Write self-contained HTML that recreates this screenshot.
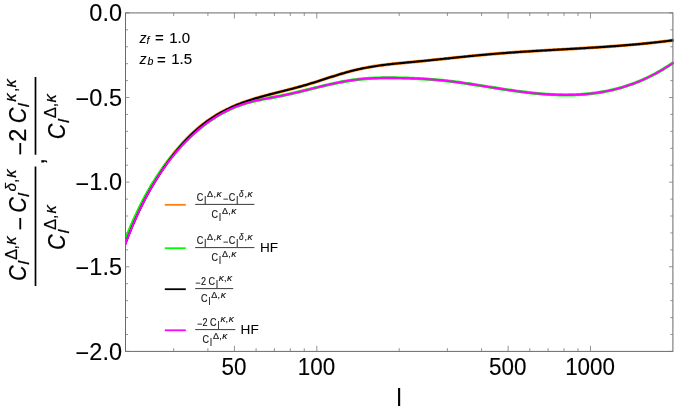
<!DOCTYPE html>
<html><head><meta charset="utf-8"><title>plot</title>
<style>
html,body{margin:0;padding:0;background:#fff;}
body{width:674px;height:413px;overflow:hidden;position:relative;font-family:"Liberation Sans",sans-serif;}
</style></head><body>
<svg width="674" height="413" viewBox="0 0 674 413" style="position:absolute;left:0;top:0;will-change:transform;opacity:0.999">
<rect x="0" y="0" width="674" height="413" fill="#fff"/>
<defs><clipPath id="c"><rect x="125.50" y="12.90" width="549.40" height="338.50"/></clipPath></defs>
<g clip-path="url(#c)" fill="none" stroke-width="2.10" stroke-linejoin="round">
<path d="M121.93 250.46 L123.45 246.34 L124.96 242.32 L126.47 238.40 L127.99 234.58 L129.50 230.85 L131.02 227.22 L132.53 223.67 L134.05 220.22 L135.56 216.85 L137.07 213.57 L138.59 210.37 L140.10 207.25 L141.62 204.21 L143.13 201.24 L144.65 198.35 L146.16 195.53 L147.67 192.78 L149.19 190.10 L150.70 187.49 L152.22 184.94 L153.73 182.46 L155.25 180.03 L156.76 177.63 L158.27 175.28 L159.79 172.96 L161.30 170.68 L162.82 168.42 L164.33 166.21 L165.85 164.03 L167.36 161.91 L168.87 159.84 L170.39 157.83 L171.90 155.86 L173.42 153.94 L174.93 152.06 L176.45 150.22 L177.96 148.43 L179.47 146.67 L180.99 144.95 L182.50 143.27 L184.02 141.63 L185.53 140.03 L187.05 138.47 L188.56 136.95 L190.08 135.46 L191.59 134.01 L193.10 132.59 L194.62 131.21 L196.13 129.87 L197.65 128.56 L199.16 127.28 L200.68 126.04 L202.19 124.83 L203.70 123.66 L205.22 122.52 L206.73 121.40 L208.25 120.32 L209.76 119.28 L211.28 118.26 L212.79 117.27 L214.30 116.31 L215.82 115.37 L217.33 114.47 L218.85 113.59 L220.36 112.73 L221.88 111.90 L223.39 111.10 L224.90 110.32 L226.42 109.56 L227.93 108.83 L229.45 108.11 L230.96 107.42 L232.48 106.74 L233.99 106.09 L235.50 105.46 L237.00 104.84 L238.50 104.24 L240.00 103.65 L241.50 103.09 L243.00 102.53 L244.50 102.00 L246.00 101.47 L247.50 100.96 L249.00 100.46 L250.50 99.97 L252.00 99.50 L253.50 99.03 L255.00 98.57 L256.50 98.12 L258.00 97.68 L259.50 97.25 L261.00 96.82 L262.50 96.41 L264.00 95.99 L265.50 95.58 L267.00 95.18 L268.50 94.78 L270.00 94.39 L271.50 94.00 L273.00 93.61 L274.50 93.23 L276.00 92.84 L277.50 92.46 L279.00 92.08 L280.50 91.70 L282.00 91.33 L283.50 90.95 L285.00 90.57 L286.50 90.19 L288.00 89.81 L289.50 89.42 L291.00 89.04 L292.50 88.65 L294.00 88.25 L295.50 87.85 L297.00 87.45 L298.50 87.05 L300.00 86.63 L301.50 86.22 L303.00 85.79 L304.50 85.36 L306.00 84.92 L307.50 84.48 L309.00 84.02 L310.50 83.57 L312.00 83.10 L313.50 82.63 L315.00 82.16 L316.50 81.69 L318.00 81.21 L319.50 80.73 L321.00 80.24 L322.50 79.76 L324.00 79.27 L325.50 78.79 L327.00 78.30 L328.50 77.82 L330.00 77.34 L331.50 76.86 L333.00 76.38 L334.50 75.91 L336.00 75.44 L337.50 74.98 L339.00 74.52 L340.50 74.06 L342.00 73.62 L343.50 73.18 L345.00 72.74 L346.50 72.32 L348.00 71.90 L349.50 71.50 L351.00 71.10 L352.50 70.71 L354.00 70.34 L355.50 69.97 L357.00 69.62 L358.50 69.28 L360.00 68.95 L361.50 68.63 L363.00 68.33 L364.50 68.03 L366.00 67.74 L367.50 67.46 L369.00 67.19 L370.50 66.93 L372.00 66.68 L373.50 66.44 L375.00 66.20 L376.50 65.97 L378.00 65.75 L379.50 65.54 L381.00 65.33 L382.50 65.13 L384.00 64.94 L385.50 64.75 L387.00 64.57 L388.50 64.39 L390.00 64.22 L391.50 64.05 L393.00 63.89 L394.50 63.73 L396.00 63.57 L397.50 63.42 L399.00 63.27 L400.50 63.12 L402.00 62.97 L403.50 62.83 L405.00 62.69 L406.50 62.55 L408.00 62.40 L409.50 62.26 L411.00 62.13 L412.50 61.99 L414.00 61.84 L415.50 61.70 L417.00 61.56 L418.50 61.42 L420.00 61.27 L421.50 61.12 L423.00 60.98 L424.50 60.83 L426.00 60.68 L427.50 60.53 L429.00 60.37 L430.50 60.22 L432.00 60.07 L433.50 59.91 L435.00 59.75 L436.50 59.60 L438.00 59.44 L439.50 59.28 L441.00 59.13 L442.50 58.97 L444.00 58.81 L445.50 58.65 L447.00 58.50 L448.50 58.34 L450.00 58.18 L451.50 58.02 L453.00 57.86 L454.50 57.71 L456.00 57.55 L457.50 57.39 L459.00 57.24 L460.50 57.08 L462.00 56.93 L463.50 56.77 L465.00 56.62 L466.50 56.47 L468.00 56.31 L469.50 56.16 L471.00 56.01 L472.50 55.86 L474.00 55.72 L475.50 55.57 L477.00 55.42 L478.50 55.28 L480.00 55.14 L481.50 55.00 L483.00 54.86 L484.50 54.72 L486.00 54.58 L487.50 54.45 L489.00 54.32 L490.50 54.19 L492.00 54.06 L493.50 53.93 L495.00 53.81 L496.50 53.68 L498.00 53.56 L499.50 53.44 L501.00 53.32 L502.50 53.21 L504.00 53.09 L505.50 52.98 L507.00 52.86 L508.50 52.75 L510.00 52.64 L511.50 52.54 L513.00 52.43 L514.50 52.33 L516.00 52.22 L517.50 52.12 L519.00 52.02 L520.50 51.92 L522.00 51.82 L523.50 51.72 L525.00 51.62 L526.50 51.53 L528.00 51.43 L529.50 51.34 L531.00 51.24 L532.50 51.15 L534.00 51.06 L535.50 50.97 L537.00 50.87 L538.50 50.78 L540.00 50.70 L541.50 50.61 L543.00 50.52 L544.50 50.43 L546.00 50.34 L547.50 50.26 L549.00 50.17 L550.50 50.08 L552.00 50.00 L553.50 49.91 L555.00 49.82 L556.50 49.74 L558.00 49.65 L559.50 49.57 L561.00 49.48 L562.50 49.40 L564.00 49.31 L565.50 49.23 L567.00 49.14 L568.50 49.06 L570.00 48.97 L571.50 48.88 L573.00 48.80 L574.50 48.71 L576.00 48.62 L577.50 48.54 L579.00 48.45 L580.50 48.36 L582.00 48.27 L583.50 48.18 L585.00 48.09 L586.50 48.00 L588.00 47.91 L589.50 47.81 L591.00 47.72 L592.50 47.63 L594.00 47.53 L595.50 47.44 L597.00 47.34 L598.50 47.24 L600.00 47.14 L601.50 47.04 L603.00 46.94 L604.50 46.84 L606.00 46.74 L607.50 46.63 L609.00 46.53 L610.50 46.42 L612.00 46.31 L613.50 46.20 L615.00 46.09 L616.50 45.98 L618.00 45.86 L619.50 45.75 L621.00 45.63 L622.50 45.51 L624.00 45.39 L625.50 45.27 L627.00 45.15 L628.50 45.02 L630.00 44.89 L631.50 44.76 L633.00 44.63 L634.50 44.50 L636.00 44.36 L637.50 44.23 L639.00 44.09 L640.50 43.94 L642.00 43.80 L643.50 43.65 L645.00 43.51 L646.50 43.36 L648.00 43.20 L649.50 43.05 L651.00 42.89 L652.50 42.73 L654.00 42.57 L655.50 42.40 L657.00 42.23 L658.50 42.06 L660.00 41.89 L661.50 41.72 L663.00 41.54 L664.50 41.36 L666.00 41.17 L667.50 40.99 L669.00 40.80 L670.50 40.60 L672.00 40.41 L673.50 40.21" stroke="#ff7f0e" stroke-width="3.20"/>
<path d="M121.47 250.46 L122.99 246.34 L124.51 242.32 L126.03 238.40 L127.55 234.58 L129.07 230.85 L130.60 227.22 L132.12 223.67 L133.64 220.22 L135.16 216.85 L136.68 213.57 L138.20 210.37 L139.72 207.25 L141.24 204.21 L142.76 201.24 L144.28 198.35 L145.80 195.53 L147.32 192.78 L148.84 190.10 L150.36 187.48 L151.88 184.93 L153.40 182.43 L154.92 180.00 L156.44 177.62 L157.96 175.30 L159.48 173.04 L161.00 170.82 L162.53 168.66 L164.05 166.55 L165.57 164.48 L167.09 162.47 L168.61 160.49 L170.13 158.56 L171.65 156.67 L173.17 154.82 L174.69 153.02 L176.21 151.25 L177.73 149.52 L179.25 147.83 L180.77 146.17 L182.29 144.55 L183.81 142.97 L185.33 141.42 L186.85 139.90 L188.37 138.42 L189.89 136.97 L191.41 135.55 L192.93 134.16 L194.45 132.80 L195.97 131.48 L197.50 130.18 L199.02 128.91 L200.54 127.67 L202.06 126.47 L203.58 125.29 L205.10 124.14 L206.62 123.02 L208.14 121.93 L209.66 120.86 L211.18 119.83 L212.70 118.82 L214.22 117.84 L215.74 116.88 L217.26 115.96 L218.78 115.06 L220.30 114.18 L221.82 113.34 L223.34 112.52 L224.86 111.72 L226.38 110.96 L227.90 110.21 L229.43 109.49 L230.95 108.80 L232.47 108.13 L233.99 107.49 L235.50 106.87 L237.00 106.27 L238.50 105.70 L240.00 105.15 L241.50 104.63 L243.00 104.12 L244.50 103.64 L246.00 103.19 L247.50 102.75 L249.00 102.34 L250.50 101.94 L252.00 101.56 L253.50 101.20 L255.00 100.85 L256.50 100.51 L258.00 100.19 L259.50 99.88 L261.00 99.58 L262.50 99.28 L264.00 99.00 L265.50 98.72 L267.00 98.44 L268.50 98.17 L270.00 97.90 L271.50 97.63 L273.00 97.36 L274.50 97.09 L276.00 96.81 L277.50 96.53 L279.00 96.25 L280.50 95.96 L282.00 95.66 L283.50 95.35 L285.00 95.04 L286.50 94.72 L288.00 94.39 L289.50 94.06 L291.00 93.72 L292.50 93.38 L294.00 93.03 L295.50 92.68 L297.00 92.33 L298.50 91.97 L300.00 91.61 L301.50 91.24 L303.00 90.88 L304.50 90.51 L306.00 90.14 L307.50 89.77 L309.00 89.40 L310.50 89.03 L312.00 88.66 L313.50 88.29 L315.00 87.92 L316.50 87.55 L318.00 87.19 L319.50 86.82 L321.00 86.46 L322.50 86.10 L324.00 85.75 L325.50 85.39 L327.00 85.05 L328.50 84.70 L330.00 84.36 L331.50 84.03 L333.00 83.70 L334.50 83.38 L336.00 83.07 L337.50 82.76 L339.00 82.46 L340.50 82.16 L342.00 81.88 L343.50 81.60 L345.00 81.33 L346.50 81.07 L348.00 80.82 L349.50 80.59 L351.00 80.36 L352.50 80.14 L354.00 79.93 L355.50 79.73 L357.00 79.55 L358.50 79.38 L360.00 79.21 L361.50 79.06 L363.00 78.92 L364.50 78.79 L366.00 78.67 L367.50 78.56 L369.00 78.46 L370.50 78.37 L372.00 78.28 L373.50 78.21 L375.00 78.14 L376.50 78.08 L378.00 78.03 L379.50 77.99 L381.00 77.95 L382.50 77.92 L384.00 77.90 L385.50 77.89 L387.00 77.88 L388.50 77.87 L390.00 77.87 L391.50 77.88 L393.00 77.89 L394.50 77.91 L396.00 77.93 L397.50 77.95 L399.00 77.98 L400.50 78.01 L402.00 78.05 L403.50 78.09 L405.00 78.13 L406.50 78.18 L408.00 78.22 L409.50 78.27 L411.00 78.33 L412.50 78.38 L414.00 78.44 L415.50 78.51 L417.00 78.57 L418.50 78.65 L420.00 78.72 L421.50 78.80 L423.00 78.88 L424.50 78.97 L426.00 79.06 L427.50 79.16 L429.00 79.26 L430.50 79.37 L432.00 79.48 L433.50 79.59 L435.00 79.72 L436.50 79.84 L438.00 79.98 L439.50 80.12 L441.00 80.26 L442.50 80.41 L444.00 80.57 L445.50 80.73 L447.00 80.90 L448.50 81.07 L450.00 81.25 L451.50 81.43 L453.00 81.61 L454.50 81.81 L456.00 82.00 L457.50 82.20 L459.00 82.40 L460.50 82.61 L462.00 82.82 L463.50 83.03 L465.00 83.25 L466.50 83.46 L468.00 83.69 L469.50 83.91 L471.00 84.14 L472.50 84.36 L474.00 84.59 L475.50 84.83 L477.00 85.06 L478.50 85.29 L480.00 85.53 L481.50 85.77 L483.00 86.00 L484.50 86.24 L486.00 86.48 L487.50 86.72 L489.00 86.96 L490.50 87.20 L492.00 87.43 L493.50 87.67 L495.00 87.91 L496.50 88.14 L498.00 88.38 L499.50 88.61 L501.00 88.84 L502.50 89.07 L504.00 89.30 L505.50 89.53 L507.00 89.75 L508.50 89.98 L510.00 90.19 L511.50 90.41 L513.00 90.62 L514.50 90.83 L516.00 91.04 L517.50 91.24 L519.00 91.44 L520.50 91.64 L522.00 91.83 L523.50 92.02 L525.00 92.20 L526.50 92.38 L528.00 92.56 L529.50 92.73 L531.00 92.89 L532.50 93.05 L534.00 93.20 L535.50 93.35 L537.00 93.49 L538.50 93.63 L540.00 93.76 L541.50 93.89 L543.00 94.01 L544.50 94.12 L546.00 94.23 L547.50 94.32 L549.00 94.42 L550.50 94.50 L552.00 94.58 L553.50 94.65 L555.00 94.72 L556.50 94.77 L558.00 94.82 L559.50 94.86 L561.00 94.89 L562.50 94.91 L564.00 94.93 L565.50 94.94 L567.00 94.93 L568.50 94.92 L570.00 94.90 L571.50 94.87 L573.00 94.83 L574.50 94.79 L576.00 94.73 L577.50 94.66 L579.00 94.58 L580.50 94.49 L582.00 94.39 L583.50 94.29 L585.00 94.17 L586.50 94.04 L588.00 93.89 L589.50 93.74 L591.00 93.58 L592.50 93.40 L594.00 93.21 L595.50 93.02 L597.00 92.80 L598.50 92.58 L600.00 92.35 L601.50 92.10 L603.00 91.84 L604.50 91.57 L606.00 91.28 L607.50 90.98 L609.00 90.67 L610.50 90.34 L612.00 90.00 L613.50 89.65 L615.00 89.28 L616.50 88.90 L618.00 88.51 L619.50 88.10 L621.00 87.68 L622.50 87.24 L624.00 86.79 L625.50 86.32 L627.00 85.84 L628.50 85.34 L630.00 84.82 L631.50 84.29 L633.00 83.75 L634.50 83.19 L636.00 82.61 L637.50 82.02 L639.00 81.41 L640.50 80.78 L642.00 80.14 L643.50 79.48 L645.00 78.80 L646.50 78.11 L648.00 77.40 L649.50 76.67 L651.00 75.92 L652.50 75.16 L654.00 74.38 L655.50 73.58 L657.00 72.76 L658.50 71.92 L660.00 71.07 L661.50 70.19 L663.00 69.30 L664.50 68.39 L666.00 67.46 L667.50 66.50 L669.00 65.53 L670.50 64.54 L672.00 63.53 L673.50 62.50" stroke="#00ff00" stroke-width="3.20"/>
<path d="M123.00 250.46 L124.50 246.34 L126.00 242.32 L127.50 238.40 L129.00 234.58 L130.50 230.85 L132.00 227.22 L133.50 223.67 L135.00 220.22 L136.50 216.85 L138.00 213.57 L139.50 210.37 L141.00 207.25 L142.50 204.21 L144.00 201.24 L145.50 198.35 L147.00 195.53 L148.50 192.78 L150.00 190.10 L151.50 187.49 L153.00 184.94 L154.50 182.46 L156.00 180.03 L157.50 177.63 L159.00 175.28 L160.50 172.96 L162.00 170.68 L163.50 168.42 L165.00 166.21 L166.50 164.03 L168.00 161.91 L169.50 159.84 L171.00 157.83 L172.50 155.86 L174.00 153.94 L175.50 152.06 L177.00 150.22 L178.50 148.43 L180.00 146.67 L181.50 144.95 L183.00 143.27 L184.50 141.63 L186.00 140.03 L187.50 138.47 L189.00 136.95 L190.50 135.46 L192.00 134.01 L193.50 132.59 L195.00 131.21 L196.50 129.87 L198.00 128.56 L199.50 127.28 L201.00 126.04 L202.50 124.83 L204.00 123.66 L205.50 122.52 L207.00 121.40 L208.50 120.32 L210.00 119.28 L211.50 118.26 L213.00 117.27 L214.50 116.31 L216.00 115.37 L217.50 114.47 L219.00 113.59 L220.50 112.73 L222.00 111.90 L223.50 111.10 L225.00 110.32 L226.50 109.56 L228.00 108.83 L229.50 108.11 L231.00 107.42 L232.50 106.74 L234.00 106.09 L235.50 105.46 L237.00 104.84 L238.50 104.24 L240.00 103.65 L241.50 103.09 L243.00 102.53 L244.50 102.00 L246.00 101.47 L247.50 100.96 L249.00 100.46 L250.50 99.97 L252.00 99.50 L253.50 99.03 L255.00 98.57 L256.50 98.12 L258.00 97.68 L259.50 97.25 L261.00 96.82 L262.50 96.41 L264.00 95.99 L265.50 95.58 L267.00 95.18 L268.50 94.78 L270.00 94.39 L271.50 94.00 L273.00 93.61 L274.50 93.23 L276.00 92.84 L277.50 92.46 L279.00 92.08 L280.50 91.70 L282.00 91.33 L283.50 90.95 L285.00 90.57 L286.50 90.19 L288.00 89.81 L289.50 89.42 L291.00 89.04 L292.50 88.65 L294.00 88.25 L295.50 87.85 L297.00 87.45 L298.50 87.05 L300.00 86.63 L301.50 86.22 L303.00 85.79 L304.50 85.36 L306.00 84.92 L307.50 84.48 L309.00 84.02 L310.50 83.57 L312.00 83.10 L313.50 82.63 L315.00 82.16 L316.50 81.69 L318.00 81.21 L319.50 80.73 L321.00 80.24 L322.50 79.76 L324.00 79.27 L325.50 78.79 L327.00 78.30 L328.50 77.82 L330.00 77.34 L331.50 76.86 L333.00 76.38 L334.50 75.91 L336.00 75.44 L337.50 74.98 L339.00 74.52 L340.50 74.06 L342.00 73.62 L343.50 73.18 L345.00 72.74 L346.50 72.32 L348.00 71.90 L349.50 71.50 L351.00 71.10 L352.50 70.71 L354.00 70.34 L355.50 69.97 L357.00 69.62 L358.50 69.28 L360.00 68.95 L361.50 68.63 L363.00 68.33 L364.50 68.03 L366.00 67.74 L367.50 67.46 L369.00 67.19 L370.50 66.93 L372.00 66.68 L373.50 66.44 L375.00 66.20 L376.50 65.97 L378.00 65.75 L379.50 65.54 L381.00 65.33 L382.50 65.13 L384.00 64.94 L385.50 64.75 L387.00 64.57 L388.50 64.39 L390.00 64.22 L391.50 64.05 L393.00 63.89 L394.50 63.73 L396.00 63.57 L397.50 63.42 L399.00 63.27 L400.50 63.12 L402.00 62.97 L403.50 62.83 L405.00 62.69 L406.50 62.55 L408.00 62.40 L409.50 62.26 L411.00 62.13 L412.50 61.99 L414.00 61.84 L415.50 61.70 L417.00 61.56 L418.50 61.42 L420.00 61.27 L421.50 61.12 L423.00 60.98 L424.50 60.83 L426.00 60.68 L427.50 60.53 L429.00 60.37 L430.50 60.22 L432.00 60.07 L433.50 59.91 L435.00 59.75 L436.50 59.60 L438.00 59.44 L439.50 59.28 L441.00 59.13 L442.50 58.97 L444.00 58.81 L445.50 58.65 L447.00 58.50 L448.50 58.34 L450.00 58.18 L451.50 58.02 L453.00 57.86 L454.50 57.71 L456.00 57.55 L457.50 57.39 L459.00 57.24 L460.50 57.08 L462.00 56.93 L463.50 56.77 L465.00 56.62 L466.50 56.47 L468.00 56.31 L469.50 56.16 L471.00 56.01 L472.50 55.86 L474.00 55.72 L475.50 55.57 L477.00 55.42 L478.50 55.28 L480.00 55.14 L481.50 55.00 L483.00 54.86 L484.50 54.72 L486.00 54.58 L487.50 54.45 L489.00 54.32 L490.50 54.19 L492.00 54.06 L493.50 53.93 L495.00 53.81 L496.50 53.68 L498.00 53.56 L499.50 53.44 L501.00 53.32 L502.50 53.21 L504.00 53.09 L505.50 52.98 L507.00 52.86 L508.50 52.75 L510.00 52.64 L511.50 52.54 L513.00 52.43 L514.50 52.33 L516.00 52.22 L517.50 52.12 L519.00 52.02 L520.50 51.92 L522.00 51.82 L523.50 51.72 L525.00 51.62 L526.50 51.53 L528.00 51.43 L529.50 51.34 L531.00 51.24 L532.50 51.15 L534.00 51.06 L535.50 50.97 L537.00 50.87 L538.50 50.78 L540.00 50.70 L541.50 50.61 L543.00 50.52 L544.50 50.43 L546.00 50.34 L547.50 50.26 L549.00 50.17 L550.50 50.08 L552.00 50.00 L553.50 49.91 L555.00 49.82 L556.50 49.74 L558.00 49.65 L559.50 49.57 L561.00 49.48 L562.50 49.40 L564.00 49.31 L565.50 49.23 L567.00 49.14 L568.50 49.06 L570.00 48.97 L571.50 48.88 L573.00 48.80 L574.50 48.71 L576.00 48.62 L577.50 48.54 L579.00 48.45 L580.50 48.36 L582.00 48.27 L583.50 48.18 L585.00 48.09 L586.50 48.00 L588.00 47.91 L589.50 47.81 L591.00 47.72 L592.50 47.63 L594.00 47.53 L595.50 47.44 L597.00 47.34 L598.50 47.24 L600.00 47.14 L601.50 47.04 L603.00 46.94 L604.50 46.84 L606.00 46.74 L607.50 46.63 L609.00 46.53 L610.50 46.42 L612.00 46.31 L613.50 46.20 L615.00 46.09 L616.50 45.98 L618.00 45.86 L619.50 45.75 L621.00 45.63 L622.50 45.51 L624.00 45.39 L625.50 45.27 L627.00 45.15 L628.50 45.02 L630.00 44.89 L631.50 44.76 L633.00 44.63 L634.50 44.50 L636.00 44.36 L637.50 44.23 L639.00 44.09 L640.50 43.94 L642.00 43.80 L643.50 43.65 L645.00 43.51 L646.50 43.36 L648.00 43.20 L649.50 43.05 L651.00 42.89 L652.50 42.73 L654.00 42.57 L655.50 42.40 L657.00 42.23 L658.50 42.06 L660.00 41.89 L661.50 41.72 L663.00 41.54 L664.50 41.36 L666.00 41.17 L667.50 40.99 L669.00 40.80 L670.50 40.60 L672.00 40.41 L673.50 40.21" stroke="#000"/>
<path d="M123.00 250.46 L124.50 246.34 L126.00 242.32 L127.50 238.40 L129.00 234.58 L130.50 230.85 L132.00 227.22 L133.50 223.67 L135.00 220.22 L136.50 216.85 L138.00 213.57 L139.50 210.37 L141.00 207.25 L142.50 204.21 L144.00 201.24 L145.50 198.35 L147.00 195.53 L148.50 192.78 L150.00 190.10 L151.50 187.48 L153.00 184.93 L154.50 182.43 L156.00 180.00 L157.50 177.62 L159.00 175.30 L160.50 173.04 L162.00 170.82 L163.50 168.66 L165.00 166.55 L166.50 164.48 L168.00 162.47 L169.50 160.49 L171.00 158.56 L172.50 156.67 L174.00 154.82 L175.50 153.02 L177.00 151.25 L178.50 149.52 L180.00 147.83 L181.50 146.17 L183.00 144.55 L184.50 142.97 L186.00 141.42 L187.50 139.90 L189.00 138.42 L190.50 136.97 L192.00 135.55 L193.50 134.16 L195.00 132.80 L196.50 131.48 L198.00 130.18 L199.50 128.91 L201.00 127.67 L202.50 126.47 L204.00 125.29 L205.50 124.14 L207.00 123.02 L208.50 121.93 L210.00 120.86 L211.50 119.83 L213.00 118.82 L214.50 117.84 L216.00 116.88 L217.50 115.96 L219.00 115.06 L220.50 114.18 L222.00 113.34 L223.50 112.52 L225.00 111.72 L226.50 110.96 L228.00 110.21 L229.50 109.49 L231.00 108.80 L232.50 108.13 L234.00 107.49 L235.50 106.87 L237.00 106.27 L238.50 105.70 L240.00 105.15 L241.50 104.63 L243.00 104.12 L244.50 103.64 L246.00 103.19 L247.50 102.75 L249.00 102.34 L250.50 101.94 L252.00 101.56 L253.50 101.20 L255.00 100.85 L256.50 100.51 L258.00 100.19 L259.50 99.88 L261.00 99.58 L262.50 99.28 L264.00 99.00 L265.50 98.72 L267.00 98.44 L268.50 98.17 L270.00 97.90 L271.50 97.63 L273.00 97.36 L274.50 97.09 L276.00 96.81 L277.50 96.53 L279.00 96.25 L280.50 95.96 L282.00 95.66 L283.50 95.35 L285.00 95.04 L286.50 94.72 L288.00 94.39 L289.50 94.06 L291.00 93.72 L292.50 93.38 L294.00 93.03 L295.50 92.68 L297.00 92.33 L298.50 91.97 L300.00 91.61 L301.50 91.24 L303.00 90.88 L304.50 90.51 L306.00 90.14 L307.50 89.77 L309.00 89.40 L310.50 89.03 L312.00 88.66 L313.50 88.29 L315.00 87.92 L316.50 87.55 L318.00 87.19 L319.50 86.82 L321.00 86.46 L322.50 86.10 L324.00 85.75 L325.50 85.39 L327.00 85.05 L328.50 84.70 L330.00 84.36 L331.50 84.03 L333.00 83.70 L334.50 83.38 L336.00 83.07 L337.50 82.76 L339.00 82.46 L340.50 82.16 L342.00 81.88 L343.50 81.60 L345.00 81.33 L346.50 81.07 L348.00 80.82 L349.50 80.59 L351.00 80.36 L352.50 80.14 L354.00 79.93 L355.50 79.73 L357.00 79.55 L358.50 79.38 L360.00 79.21 L361.50 79.06 L363.00 78.92 L364.50 78.79 L366.00 78.67 L367.50 78.56 L369.00 78.46 L370.50 78.37 L372.00 78.28 L373.50 78.21 L375.00 78.14 L376.50 78.08 L378.00 78.03 L379.50 77.99 L381.00 77.95 L382.50 77.92 L384.00 77.90 L385.50 77.89 L387.00 77.88 L388.50 77.87 L390.00 77.87 L391.50 77.88 L393.00 77.89 L394.50 77.91 L396.00 77.93 L397.50 77.95 L399.00 77.98 L400.50 78.01 L402.00 78.05 L403.50 78.09 L405.00 78.13 L406.50 78.18 L408.00 78.22 L409.50 78.27 L411.00 78.33 L412.50 78.38 L414.00 78.44 L415.50 78.51 L417.00 78.57 L418.50 78.65 L420.00 78.72 L421.50 78.80 L423.00 78.88 L424.50 78.97 L426.00 79.06 L427.50 79.16 L429.00 79.26 L430.50 79.37 L432.00 79.48 L433.50 79.59 L435.00 79.72 L436.50 79.84 L438.00 79.98 L439.50 80.12 L441.00 80.26 L442.50 80.41 L444.00 80.57 L445.50 80.73 L447.00 80.90 L448.50 81.07 L450.00 81.25 L451.50 81.43 L453.00 81.61 L454.50 81.81 L456.00 82.00 L457.50 82.20 L459.00 82.40 L460.50 82.61 L462.00 82.82 L463.50 83.03 L465.00 83.25 L466.50 83.46 L468.00 83.69 L469.50 83.91 L471.00 84.14 L472.50 84.36 L474.00 84.59 L475.50 84.83 L477.00 85.06 L478.50 85.29 L480.00 85.53 L481.50 85.77 L483.00 86.00 L484.50 86.24 L486.00 86.48 L487.50 86.72 L489.00 86.96 L490.50 87.20 L492.00 87.43 L493.50 87.67 L495.00 87.91 L496.50 88.14 L498.00 88.38 L499.50 88.61 L501.00 88.84 L502.50 89.07 L504.00 89.30 L505.50 89.53 L507.00 89.75 L508.50 89.98 L510.00 90.19 L511.50 90.41 L513.00 90.62 L514.50 90.83 L516.00 91.04 L517.50 91.24 L519.00 91.44 L520.50 91.64 L522.00 91.83 L523.50 92.02 L525.00 92.20 L526.50 92.38 L528.00 92.56 L529.50 92.73 L531.00 92.89 L532.50 93.05 L534.00 93.20 L535.50 93.35 L537.00 93.49 L538.50 93.63 L540.00 93.76 L541.50 93.89 L543.00 94.01 L544.50 94.12 L546.00 94.23 L547.50 94.32 L549.00 94.42 L550.50 94.50 L552.00 94.58 L553.50 94.65 L555.00 94.72 L556.50 94.77 L558.00 94.82 L559.50 94.86 L561.00 94.89 L562.50 94.91 L564.00 94.93 L565.50 94.94 L567.00 94.93 L568.50 94.92 L570.00 94.90 L571.50 94.87 L573.00 94.83 L574.50 94.79 L576.00 94.73 L577.50 94.66 L579.00 94.58 L580.50 94.49 L582.00 94.39 L583.50 94.29 L585.00 94.17 L586.50 94.04 L588.00 93.89 L589.50 93.74 L591.00 93.58 L592.50 93.40 L594.00 93.21 L595.50 93.02 L597.00 92.80 L598.50 92.58 L600.00 92.35 L601.50 92.10 L603.00 91.84 L604.50 91.57 L606.00 91.28 L607.50 90.98 L609.00 90.67 L610.50 90.34 L612.00 90.00 L613.50 89.65 L615.00 89.28 L616.50 88.90 L618.00 88.51 L619.50 88.10 L621.00 87.68 L622.50 87.24 L624.00 86.79 L625.50 86.32 L627.00 85.84 L628.50 85.34 L630.00 84.82 L631.50 84.29 L633.00 83.75 L634.50 83.19 L636.00 82.61 L637.50 82.02 L639.00 81.41 L640.50 80.78 L642.00 80.14 L643.50 79.48 L645.00 78.80 L646.50 78.11 L648.00 77.40 L649.50 76.67 L651.00 75.92 L652.50 75.16 L654.00 74.38 L655.50 73.58 L657.00 72.76 L658.50 71.92 L660.00 71.07 L661.50 70.19 L663.00 69.30 L664.50 68.39 L666.00 67.46 L667.50 66.50 L669.00 65.53 L670.50 64.54 L672.00 63.53 L673.50 62.50" stroke="#ff00ff"/>
</g>
<g stroke="#6a6a6a" stroke-width="1" fill="none">
<rect x="125.50" y="12.90" width="547.40" height="338.50"/>
</g><g stroke="#787878" stroke-width="0.8" fill="none">
<path d="M125.50 12.90h3.90 M672.90 12.90h-3.90"/>
<path d="M125.50 29.83h2.60 M672.90 29.83h-2.60"/>
<path d="M125.50 46.75h2.60 M672.90 46.75h-2.60"/>
<path d="M125.50 63.68h2.60 M672.90 63.68h-2.60"/>
<path d="M125.50 80.60h2.60 M672.90 80.60h-2.60"/>
<path d="M125.50 97.53h3.90 M672.90 97.53h-3.90"/>
<path d="M125.50 114.45h2.60 M672.90 114.45h-2.60"/>
<path d="M125.50 131.38h2.60 M672.90 131.38h-2.60"/>
<path d="M125.50 148.30h2.60 M672.90 148.30h-2.60"/>
<path d="M125.50 165.23h2.60 M672.90 165.23h-2.60"/>
<path d="M125.50 182.15h3.90 M672.90 182.15h-3.90"/>
<path d="M125.50 199.08h2.60 M672.90 199.08h-2.60"/>
<path d="M125.50 216.00h2.60 M672.90 216.00h-2.60"/>
<path d="M125.50 232.93h2.60 M672.90 232.93h-2.60"/>
<path d="M125.50 249.85h2.60 M672.90 249.85h-2.60"/>
<path d="M125.50 266.77h3.90 M672.90 266.77h-3.90"/>
<path d="M125.50 283.70h2.60 M672.90 283.70h-2.60"/>
<path d="M125.50 300.62h2.60 M672.90 300.62h-2.60"/>
<path d="M125.50 317.55h2.60 M672.90 317.55h-2.60"/>
<path d="M125.50 334.48h2.60 M672.90 334.48h-2.60"/>
<path d="M125.50 351.40h3.90 M672.90 351.40h-3.90"/>
<path d="M234.41 351.40v-5.60 M234.41 12.90v5.60"/>
<path d="M316.80 351.40v-5.60 M316.80 12.90v5.60"/>
<path d="M508.11 351.40v-5.60 M508.11 12.90v5.60"/>
<path d="M590.50 351.40v-5.60 M590.50 12.90v5.60"/>
<path d="M173.69 351.40v-3.20 M173.69 12.90v3.20"/>
<path d="M207.88 351.40v-3.20 M207.88 12.90v3.20"/>
<path d="M256.08 351.40v-3.20 M256.08 12.90v3.20"/>
<path d="M274.40 351.40v-3.20 M274.40 12.90v3.20"/>
<path d="M290.28 351.40v-3.20 M290.28 12.90v3.20"/>
<path d="M304.28 351.40v-3.20 M304.28 12.90v3.20"/>
<path d="M399.19 351.40v-3.20 M399.19 12.90v3.20"/>
<path d="M447.39 351.40v-3.20 M447.39 12.90v3.20"/>
<path d="M481.58 351.40v-3.20 M481.58 12.90v3.20"/>
<path d="M529.78 351.40v-3.20 M529.78 12.90v3.20"/>
<path d="M548.10 351.40v-3.20 M548.10 12.90v3.20"/>
<path d="M563.98 351.40v-3.20 M563.98 12.90v3.20"/>
<path d="M577.98 351.40v-3.20 M577.98 12.90v3.20"/>
</g>
<g font-family="Liberation Sans, sans-serif" font-size="23.5" fill="#000" stroke="#000" stroke-width="0.1">
<text x="122.0" y="21.10" text-anchor="end">0.0</text>
<text x="122.0" y="105.73" text-anchor="end">0.5</text>
<text x="89.13" y="107.23" text-anchor="end">−</text>
<text x="122.0" y="190.35" text-anchor="end">1.0</text>
<text x="89.13" y="191.85" text-anchor="end">−</text>
<text x="122.0" y="274.97" text-anchor="end">1.5</text>
<text x="89.13" y="276.47" text-anchor="end">−</text>
<text x="122.0" y="359.60" text-anchor="end">2.0</text>
<text x="89.13" y="361.10" text-anchor="end">−</text>
<text transform="translate(234.01 374.80) scale(0.955 1)" text-anchor="middle">50</text>
<text transform="translate(316.40 374.80) scale(0.955 1)" text-anchor="middle">100</text>
<text transform="translate(507.71 374.80) scale(0.955 1)" text-anchor="middle">500</text>
<text transform="translate(590.10 374.80) scale(0.955 1)" text-anchor="middle">1000</text>
<text x="399" y="406.1" text-anchor="middle" font-size="23">l</text>
</g>
<g font-family="Liberation Sans, sans-serif" fill="#000" stroke="#000" stroke-width="0.12">
<text transform="translate(139.48 42.60) scale(1.000 1.000)" font-size="14.20" font-style="italic">z</text>
<text transform="translate(146.54 44.00) scale(1.000 1.000)" font-size="10.60" font-style="italic">f</text>
<text transform="translate(154.97 43.20) scale(1.060 1.000)" font-size="14.20">=</text>
<text transform="translate(169.15 42.60) scale(1.060 1.000)" font-size="14.20">1.0</text>
<text transform="translate(139.48 64.00) scale(1.000 1.000)" font-size="14.20" font-style="italic">z</text>
<text transform="translate(147.55 65.40) scale(1.000 1.000)" font-size="10.60" font-style="italic">b</text>
<text transform="translate(157.07 64.60) scale(1.060 1.000)" font-size="14.20">=</text>
<text transform="translate(171.25 64.00) scale(1.060 1.000)" font-size="14.20">1.5</text>
</g>
<g stroke-width="1.8" fill="none">
<path d="M164.8 204.80H185.8" stroke="#ff7f0e"/>
<path d="M164.8 248.20H185.8" stroke="#00ff00"/>
<path d="M164.8 289.20H185.8" stroke="#000"/>
<path d="M164.8 330.30H185.8" stroke="#ff00ff"/>
</g>
<g stroke="#222" stroke-width="0.9">
<path d="M195.2 204.4H254.4 M195.2 247.6H254.4 M195.2 288.6H233.2 M195.2 329.6H235.3"/>
</g>
<g font-family="Liberation Sans, sans-serif" font-size="9.0" fill="#111" stroke="#111" stroke-width="0.12">
<text transform="translate(196.70 200.90) scale(1.000 1.130)">C</text><text transform="translate(204.30 203.60) scale(1.000 1.170)">l</text><text transform="translate(207.10 196.80) scale(1.000 1.060)">Δ</text><text transform="translate(213.40 196.80) scale(1.000 1.000)">,</text><text transform="translate(216.50 196.80) scale(1.120 1.000)" font-style="italic">κ</text>
<text transform="translate(222.90 201.60) scale(1.000 1.000)">−</text>
<text transform="translate(228.70 200.90) scale(1.000 1.130)">C</text><text transform="translate(236.30 203.60) scale(1.000 1.170)">l</text><text transform="translate(239.10 196.80) scale(0.920 0.950)" font-style="italic">δ</text><text transform="translate(244.50 196.80) scale(1.000 1.000)">,</text><text transform="translate(247.60 196.80) scale(1.120 1.000)" font-style="italic">κ</text>
<text transform="translate(211.50 218.10) scale(1.000 1.130)">C</text><text transform="translate(219.10 220.80) scale(1.000 1.170)">l</text><text transform="translate(221.90 214.00) scale(1.000 1.060)">Δ</text><text transform="translate(228.20 214.00) scale(1.000 1.000)">,</text><text transform="translate(231.30 214.00) scale(1.120 1.000)" font-style="italic">κ</text>
<text transform="translate(196.70 244.10) scale(1.000 1.130)">C</text><text transform="translate(204.30 246.80) scale(1.000 1.170)">l</text><text transform="translate(207.10 240.00) scale(1.000 1.060)">Δ</text><text transform="translate(213.40 240.00) scale(1.000 1.000)">,</text><text transform="translate(216.50 240.00) scale(1.120 1.000)" font-style="italic">κ</text>
<text transform="translate(222.90 244.80) scale(1.000 1.000)">−</text>
<text transform="translate(228.70 244.10) scale(1.000 1.130)">C</text><text transform="translate(236.30 246.80) scale(1.000 1.170)">l</text><text transform="translate(239.10 240.00) scale(0.920 0.950)" font-style="italic">δ</text><text transform="translate(244.50 240.00) scale(1.000 1.000)">,</text><text transform="translate(247.60 240.00) scale(1.120 1.000)" font-style="italic">κ</text>
<text transform="translate(211.50 261.30) scale(1.000 1.130)">C</text><text transform="translate(219.10 264.00) scale(1.000 1.170)">l</text><text transform="translate(221.90 257.20) scale(1.000 1.060)">Δ</text><text transform="translate(228.20 257.20) scale(1.000 1.000)">,</text><text transform="translate(231.30 257.20) scale(1.120 1.000)" font-style="italic">κ</text>
<text transform="translate(195.30 286.00) scale(1.000 1.000)">−</text>
<text transform="translate(201.00 285.30) scale(1.000 1.130)">2</text>
<text transform="translate(208.40 285.30) scale(1.000 1.130)">C</text><text transform="translate(216.00 288.00) scale(1.000 1.170)">l</text><text transform="translate(218.80 281.20) scale(1.120 1.000)" font-style="italic">κ</text><text transform="translate(224.00 281.20) scale(1.000 1.000)">,</text><text transform="translate(227.10 281.20) scale(1.120 1.000)" font-style="italic">κ</text>
<text transform="translate(200.90 302.30) scale(1.000 1.130)">C</text><text transform="translate(208.50 305.00) scale(1.000 1.170)">l</text><text transform="translate(211.30 298.20) scale(1.000 1.060)">Δ</text><text transform="translate(217.60 298.20) scale(1.000 1.000)">,</text><text transform="translate(220.70 298.20) scale(1.120 1.000)" font-style="italic">κ</text>
<text transform="translate(196.90 327.00) scale(1.000 1.000)">−</text>
<text transform="translate(202.60 326.30) scale(1.000 1.130)">2</text>
<text transform="translate(210.00 326.30) scale(1.000 1.130)">C</text><text transform="translate(217.60 329.00) scale(1.000 1.170)">l</text><text transform="translate(220.40 322.20) scale(1.120 1.000)" font-style="italic">κ</text><text transform="translate(225.60 322.20) scale(1.000 1.000)">,</text><text transform="translate(228.70 322.20) scale(1.120 1.000)" font-style="italic">κ</text>
<text transform="translate(202.50 343.30) scale(1.000 1.130)">C</text><text transform="translate(210.10 346.00) scale(1.000 1.170)">l</text><text transform="translate(212.90 339.20) scale(1.000 1.060)">Δ</text><text transform="translate(219.20 339.20) scale(1.000 1.000)">,</text><text transform="translate(222.30 339.20) scale(1.120 1.000)" font-style="italic">κ</text>
</g>
<g font-family="Liberation Sans, sans-serif" font-size="13.6" fill="#000" stroke="#000" stroke-width="0.05">
<text x="260.0" y="252.0">HF</text>
<text x="240.6" y="334.0">HF</text>
</g>
<g transform="rotate(-90)" font-family="Liberation Sans, sans-serif" fill="#000" stroke="#000" stroke-width="0.2">
<text transform="translate(-280.99 26.10) scale(0.880 1.000)" font-size="24.50" font-style="italic">C</text>
<text transform="translate(-264.69 29.40) scale(1.150 1.000)" font-size="15.50" font-style="italic">l</text>
<text transform="translate(-259.89 16.70) scale(1.000 1.000)" font-size="16.60">Δ</text>
<text transform="translate(-249.54 16.80) scale(1.000 1.000)" font-size="16.00">,</text>
<text transform="translate(-244.87 16.20) scale(1.000 1.000)" font-size="16.50" font-style="italic">κ</text>
<text transform="translate(-230.33 27.50) scale(1.000 1.000)" font-size="23.00">−</text>
<text transform="translate(-212.69 26.10) scale(0.880 1.000)" font-size="24.50" font-style="italic">C</text>
<text transform="translate(-197.09 29.40) scale(1.150 1.000)" font-size="15.50" font-style="italic">l</text>
<text transform="translate(-191.51 15.60) scale(1.000 1.000)" font-size="15.50" font-style="italic">δ</text>
<text transform="translate(-183.04 16.80) scale(1.000 1.000)" font-size="16.00">,</text>
<text transform="translate(-177.67 16.20) scale(1.000 1.000)" font-size="16.50" font-style="italic">κ</text>
<text transform="translate(-249.99 65.10) scale(0.880 1.000)" font-size="24.50" font-style="italic">C</text>
<text transform="translate(-233.59 68.70) scale(1.150 1.000)" font-size="15.50" font-style="italic">l</text>
<text transform="translate(-230.09 56.40) scale(1.000 1.000)" font-size="16.60">Δ</text>
<text transform="translate(-219.04 56.40) scale(1.000 1.000)" font-size="16.00">,</text>
<text transform="translate(-213.47 55.80) scale(1.000 1.000)" font-size="16.50" font-style="italic">κ</text>
<text transform="translate(-164.57 43.70) scale(1.000 1.000)" font-size="23.00">,</text>
<text transform="translate(-155.13 27.50) scale(1.000 1.000)" font-size="23.00">−</text>
<text transform="translate(-141.68 26.20) scale(1.000 1.000)" font-size="23.50">2</text>
<text transform="translate(-123.29 26.10) scale(0.880 1.000)" font-size="24.50" font-style="italic">C</text>
<text transform="translate(-107.29 29.40) scale(1.150 1.000)" font-size="15.50" font-style="italic">l</text>
<text transform="translate(-101.87 16.20) scale(1.000 1.000)" font-size="16.50" font-style="italic">κ</text>
<text transform="translate(-91.94 16.80) scale(1.000 1.000)" font-size="16.00">,</text>
<text transform="translate(-87.57 16.20) scale(1.000 1.000)" font-size="16.50" font-style="italic">κ</text>
<text transform="translate(-139.19 65.10) scale(0.880 1.000)" font-size="24.50" font-style="italic">C</text>
<text transform="translate(-122.99 68.70) scale(1.150 1.000)" font-size="15.50" font-style="italic">l</text>
<text transform="translate(-118.19 56.40) scale(1.000 1.000)" font-size="16.60">Δ</text>
<text transform="translate(-107.24 56.40) scale(1.000 1.000)" font-size="16.00">,</text>
<text transform="translate(-102.47 55.80) scale(1.000 1.000)" font-size="16.50" font-style="italic">κ</text>
</g>
<g stroke="#000" stroke-width="1.7"><path d="M35.5 166.4V286 M35.5 77.1V154.7"/></g>
</svg>
</body></html>
